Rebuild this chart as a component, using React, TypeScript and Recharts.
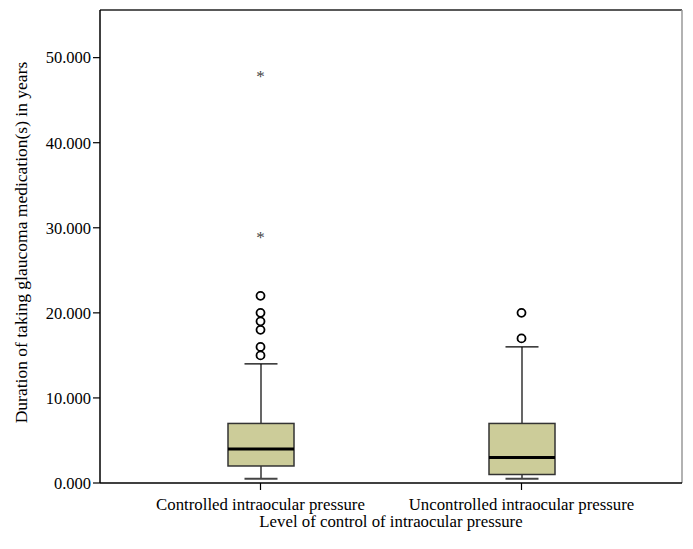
import React from 'react';
import { ComposedChart, Bar, Scatter, XAxis, YAxis, CartesianGrid } from 'recharts';

const categories = ['Controlled intraocular pressure', 'Uncontrolled intraocular pressure'];
const whiskerLow = [0.5, 0.5];
const q1 = [2, 1];
const median = [4, 3];
const q3 = [7, 7];
const whiskerHigh = [14, 16];
const outliersControlled = [15, 16, 18, 19, 20, 22];
const outliersUncontrolled = [17, 20];
const extremesControlled = [29, 48];
const yTicks = [0, 10, 20, 30, 40, 50];
const yDomain = [0, 55.6];

const boxData = categories.map((name, i) => ({
  name,
  lo: whiskerLow[i],
  q1: q1[i],
  med: median[i],
  q3: q3[i],
  hi: whiskerHigh[i],
}));

const outlierData = [
  ...outliersControlled.map((v) => ({ name: categories[0], value: v })),
  ...outliersUncontrolled.map((v) => ({ name: categories[1], value: v })),
];
const extremeData = extremesControlled.map((v) => ({ name: categories[0], value: v }));

const FONT = '"Liberation Serif", "DejaVu Serif", serif';

const BoxShape = (props: any) => {
  const { x, y, width, height, payload } = props;
  const k = height / (payload.hi - payload.lo);
  const yOf = (v: number) => y + (payload.hi - v) * k;
  const cx = x + width / 2;
  const capW = width / 2;
  return (
    <g>
      <line x1={cx} x2={cx} y1={yOf(payload.hi)} y2={yOf(payload.q3)} stroke="#000" strokeWidth={1.2} />
      <line x1={cx} x2={cx} y1={yOf(payload.q1)} y2={yOf(payload.lo)} stroke="#000" strokeWidth={1.2} />
      <line x1={cx - capW / 2} x2={cx + capW / 2} y1={yOf(payload.hi)} y2={yOf(payload.hi)} stroke="#000" strokeWidth={1.2} />
      <line x1={cx - capW / 2} x2={cx + capW / 2} y1={yOf(payload.lo)} y2={yOf(payload.lo)} stroke="#444" strokeWidth={2} />
      <rect
        x={x}
        y={yOf(payload.q3)}
        width={width}
        height={yOf(payload.q1) - yOf(payload.q3)}
        fill="#CCCC99"
        stroke="#333"
        strokeWidth={1.5}
      />
      <line x1={x} x2={x + width} y1={yOf(payload.med)} y2={yOf(payload.med)} stroke="#000" strokeWidth={3} />
    </g>
  );
};

const CircleShape = (props: any) => {
  const { cx, cy } = props;
  return <circle cx={cx} cy={cy} r={4} fill="#fff" stroke="#000" strokeWidth={1.8} />;
};

const StarShape = (props: any) => {
  const { cx, cy } = props;
  return (
    <text x={cx} y={cy + 7} textAnchor="middle" fontSize={17} fill="#444" fontFamily={FONT}>
      *
    </text>
  );
};

const YLabel = (props: any) => {
  const { viewBox } = props;
  const cy = viewBox.y + viewBox.height / 2 - 4;
  const cx = 13;
  return (
    <text
      x={cx}
      y={cy}
      transform={`rotate(-90, ${cx}, ${cy})`}
      textAnchor="middle"
      dominantBaseline="central"
      fontSize={17.5}
      fontFamily={FONT}
      fill="#000"
    >
      Duration of taking glaucoma medication(s) in years
    </text>
  );
};

const XLabel = (props: any) => {
  const { viewBox } = props;
  const cx = viewBox.x + viewBox.width / 2;
  return (
    <text x={cx} y={513} textAnchor="middle" dominantBaseline="central" fontSize={16.8} fontFamily={FONT} fill="#000">
      Level of control of intraocular pressure
    </text>
  );
};

export default function App() {
  return (
    <div style={{ width: 685, height: 541, background: '#fff' }}>
      <ComposedChart width={685} height={541} data={boxData} margin={{ top: 2, right: 11, bottom: 16, left: 0 }}>
        <CartesianGrid
          vertical={false}
          horizontalCoordinatesGenerator={(p: any) => [p.offset.top]}
          stroke="#222"
          strokeWidth={1.5}
        />
        <CartesianGrid
          horizontal={false}
          verticalCoordinatesGenerator={(p: any) => [p.offset.left + p.offset.width]}
          stroke="#999"
          strokeWidth={1.5}
        />
        <XAxis
          dataKey="name"
          type="category"
          allowDuplicatedCategory={false}
          padding={{ left: 30, right: 30 }}
          axisLine={{ stroke: '#000', strokeWidth: 1.5 }}
          tickLine={{ stroke: '#000', strokeWidth: 1.2 }}
          tickSize={7}
          height={50}
          tick={{ fontSize: 16.8, fontFamily: FONT, fill: '#000', dy: 6 }}
          label={<XLabel />}
        />
        <YAxis
          type="number"
          domain={yDomain}
          ticks={yTicks}
          allowDataOverflow
          width={92}
          tickFormatter={(v: number) => v.toFixed(3)}
          axisLine={{ stroke: '#000', strokeWidth: 1.5 }}
          tickLine={{ stroke: '#000', strokeWidth: 1.2 }}
          tickSize={7}
          tick={{ fontSize: 16.5, fontFamily: FONT, fill: '#000' }}
          label={<YLabel />}
        />
        <Bar dataKey={(d: any) => [d.lo, d.hi]} barSize={66} shape={<BoxShape />} isAnimationActive={false} />
        <Scatter data={outlierData} dataKey="value" shape={<CircleShape />} isAnimationActive={false} />
        <Scatter data={extremeData} dataKey="value" shape={<StarShape />} isAnimationActive={false} />
      </ComposedChart>
    </div>
  );
}
